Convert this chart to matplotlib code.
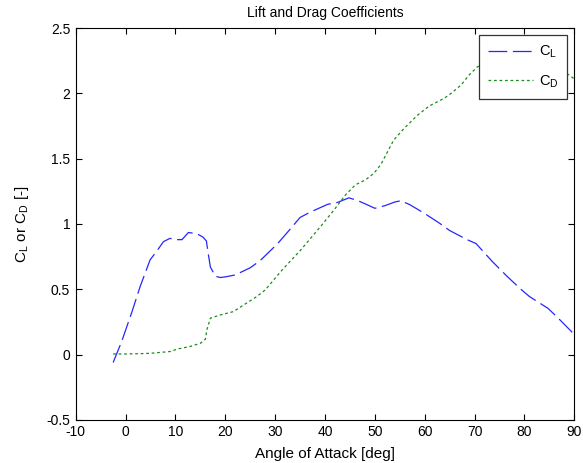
import numpy as np
import matplotlib
matplotlib.use("Agg")
import matplotlib.pyplot as plt

# lift coefficient vs angle of attack
alpha_cl = [-2.5, -0.8, 1.2, 2.9, 4.9, 6.2, 7.6, 8.9, 9.9, 11.3, 12.6, 14.3, 15.5,
            16.2, 16.5, 17, 18, 19, 20, 22, 25, 27, 30.5, 33, 35, 37, 40.5, 42.5,
            44.8, 46.5, 48, 50, 52, 54, 55.2, 57, 60, 63, 65, 68.5, 70.3, 73.5,
            76.5, 79.3, 81, 84.7, 86.5, 90]
cl = [-0.06, 0.10, 0.32, 0.52, 0.725, 0.79, 0.865, 0.89, 0.88, 0.88, 0.935, 0.925, 0.90,
      0.87, 0.79, 0.67, 0.60, 0.59, 0.595, 0.61, 0.665, 0.72, 0.85, 0.96, 1.05, 1.09, 1.15, 1.165,
      1.20, 1.18, 1.155, 1.12, 1.14, 1.168, 1.178, 1.148, 1.08, 1.005, 0.95, 0.88, 0.85, 0.715,
      0.60, 0.50, 0.445, 0.355, 0.29, 0.155]

# drag coefficient vs angle of attack
alpha_cd = [-2.5, 0, 2.5, 5, 9, 10.3, 12.9, 15, 16, 16.3, 17, 19, 21.6, 24, 26.3, 28,
            31.4, 35.1, 39.1, 41.8, 44.1, 46.1, 48.1, 49.8, 51.2, 52.2, 53.8, 55.9,
            58.6, 60.9, 63.9, 65.3, 67.3, 68.9, 70.6, 73, 76, 80, 84, 87, 89, 90]
cd = [0.005, 0.005, 0.007, 0.01, 0.024, 0.042, 0.062, 0.087, 0.118, 0.19, 0.279, 0.304,
      0.329, 0.388, 0.444, 0.495, 0.648, 0.80, 0.98, 1.107, 1.222, 1.30, 1.337, 1.388,
      1.455, 1.528, 1.643, 1.733, 1.834, 1.903, 1.962, 2.0, 2.064, 2.14, 2.204, 2.24,
      2.25, 2.24, 2.22, 2.18, 2.14, 2.11]

plt.rcParams['font.family'] = ['Liberation Sans', 'DejaVu Sans']
plt.rcParams['mathtext.default'] = 'regular'
plt.rcParams['axes.unicode_minus'] = False
plt.rcParams['font.size'] = 10

fig = plt.figure(figsize=(5.83, 4.63), dpi=100)
ax = fig.add_axes([0.130, 0.093, 0.855, 0.8465])

ax.plot(alpha_cl, cl, color=(0.15, 0.15, 1), lw=0.9, dashes=(15, 4.5), label='$C_L$')
ax.plot(alpha_cd, cd, color=(0.1, 0.55, 0.1), lw=0.9, dashes=(2.2, 2.2), label='$C_D$')

ax.set_xlim(-10, 90)
ax.set_ylim(-0.5, 2.5)
ax.set_xticks(np.arange(-10, 91, 10))
ax.set_yticks(np.arange(-0.5, 2.51, 0.5))
ax.set_yticklabels(['-0.5', '0', '0.5', '1', '1.5', '2', '2.5'])
ax.tick_params(direction='in', length=4, width=0.8, top=True, right=True)
ax.tick_params(axis='x', pad=3.5)
ax.tick_params(axis='y', pad=4)
for s in ax.spines.values():
    s.set_linewidth(0.8)

ax.set_title('Lift and Drag Coefficients', fontsize=10, pad=8)
ax.set_xlabel('Angle of Attack [deg]', fontsize=11, labelpad=6)
ax.set_ylabel('C$_L$ or C$_D$ [-]', fontsize=11, labelpad=11)

leg = ax.legend(loc='upper right', fancybox=False, edgecolor='#333333', framealpha=1,
                borderaxespad=0.5, handlelength=3.1, handletextpad=0.35,
                labelspacing=0.9, borderpad=0.6, fontsize=10.5)
leg.get_frame().set_linewidth(0.9)

fig.savefig('out.png', dpi=100)
